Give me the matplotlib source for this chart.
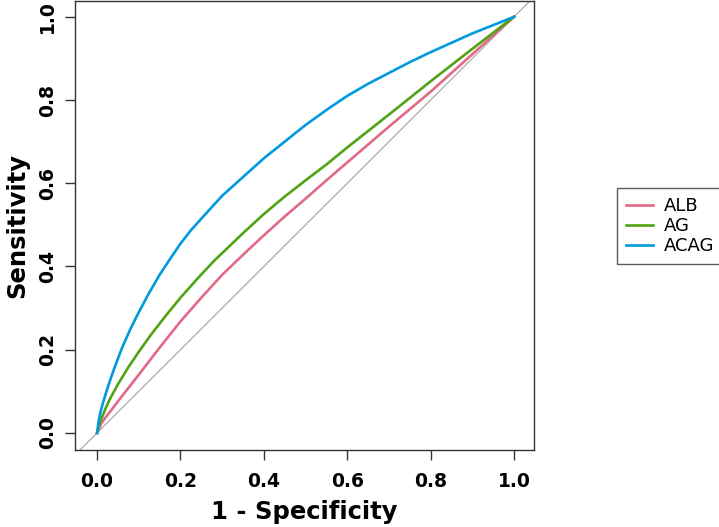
import numpy as np
import matplotlib
matplotlib.use("Agg")
import matplotlib.pyplot as plt

# ROC curves (1 - specificity, sensitivity)
alb_fpr = [0.0, 0.005, 0.01, 0.02, 0.035, 0.05, 0.075, 0.1, 0.15, 0.2, 0.25, 0.3, 0.35,
           0.4, 0.45, 0.5, 0.55, 0.6, 0.7, 0.8, 0.9, 1.0]
alb_tpr = [0.0, 0.012, 0.022, 0.037, 0.056, 0.076, 0.108, 0.14, 0.205, 0.268, 0.325, 0.38, 0.428,
           0.475, 0.52, 0.563, 0.607, 0.65, 0.736, 0.82, 0.91, 1.0]

ag_fpr = [0.0, 0.005, 0.01, 0.02, 0.03, 0.05, 0.075, 0.1, 0.13, 0.165, 0.2, 0.24, 0.28, 0.35,
          0.4, 0.45, 0.5, 0.55, 0.6, 0.7, 0.8, 0.9, 1.0]
ag_tpr = [0.0, 0.02, 0.033, 0.058, 0.08, 0.117, 0.158, 0.195, 0.237, 0.282, 0.325, 0.37, 0.413, 0.48,
          0.526, 0.568, 0.607, 0.645, 0.686, 0.765, 0.845, 0.923, 1.0]

acag_fpr = [0.0, 0.003, 0.007, 0.012, 0.02, 0.03, 0.04, 0.06, 0.08, 0.1, 0.125, 0.15, 0.175, 0.2,
            0.225, 0.25, 0.3, 0.35, 0.4, 0.45, 0.5, 0.55, 0.6, 0.65, 0.7, 0.75, 0.8, 0.9, 1.0]
acag_tpr = [0.0, 0.025, 0.045, 0.065, 0.092, 0.123, 0.152, 0.205, 0.25, 0.29, 0.337, 0.38, 0.418, 0.455,
            0.487, 0.515, 0.57, 0.615, 0.66, 0.70, 0.74, 0.776, 0.81, 0.839, 0.865, 0.891, 0.915, 0.96, 1.0]

labels = ["ALB", "AG", "ACAG"]
colors = ["#E16A86", "#50A315", "#009ADE"]
ticks = [0.0, 0.2, 0.4, 0.6, 0.8, 1.0]

fig = plt.figure(figsize=(7.19, 5.27), dpi=100)
ax = fig.add_axes([75 / 719, 1 - 450 / 527, 459 / 719, 449 / 527])

ax.axline((0, 0), (1, 1), color="#aaaaaa", lw=0.9, zorder=1)
curves = [(alb_fpr, alb_tpr), (ag_fpr, ag_tpr), (acag_fpr, acag_tpr)]
handles = []
for (fx, ty), lab, col in zip(curves, labels, colors):
    h, = ax.plot(fx, ty, color=col, lw=1.9, label=lab, zorder=2,
                 solid_joinstyle="round")
    handles.append(h)

ax.set_xlim(-0.053, 1.048)
ax.set_ylim(-0.041, 1.038)
ax.set_xticks(ticks)
ax.set_yticks(ticks)
ax.set_xticklabels(["%.1f" % t for t in ticks], fontsize=13.5, fontweight="bold")
ax.set_yticklabels(["%.1f" % t for t in ticks], fontsize=13.5, fontweight="bold",
                   rotation=90, va="center")
ax.tick_params(length=7, width=1, color="#333333", pad=6)
ax.tick_params(axis="x", pad=9)
for s in ax.spines.values():
    s.set_color("#333333")
    s.set_linewidth(1)

ax.set_xlabel("1 - Specificity", fontsize=17.5, fontweight="bold", labelpad=6)
ax.set_ylabel("Sensitivity", fontsize=17.5, fontweight="bold", labelpad=6)

leg = fig.legend(handles=handles, labels=labels, loc="center",
                 bbox_to_anchor=(670 / 719, 1 - 226 / 527), fontsize=13,
                 frameon=True, fancybox=False, edgecolor="#333333",
                 handlelength=1.5, borderpad=0.5, labelspacing=0.12,
                 handletextpad=0.6, borderaxespad=0.3)
leg.get_frame().set_linewidth(1)

fig.savefig("out.png", dpi=100)
